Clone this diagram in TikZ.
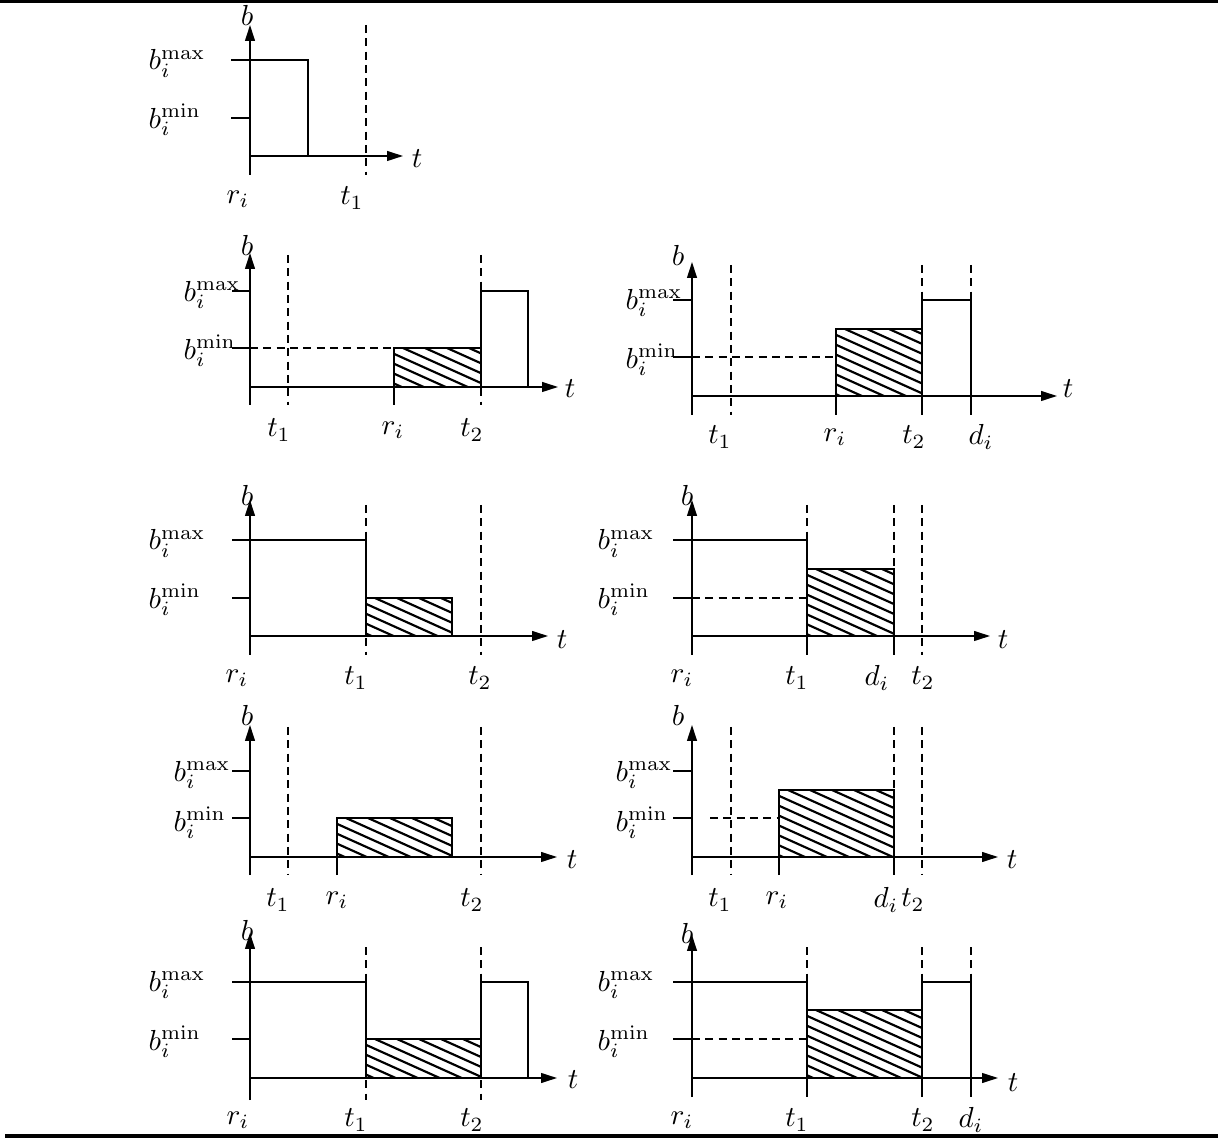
\documentclass[tikz,border=0pt]{standalone}
\usetikzlibrary{arrows.meta}
\newcommand\hatchbox[4]{%
  \begin{scope}
    \clip (#1,#2) rectangle (#3,#4);
    \foreach \k in {-12,...,12}{
      \draw[hatchline] ({#1+9+22*\k-300},{#2-135}) -- ({#1+9+22*\k+300},{#2+135});
    }
  \end{scope}}
\begin{document}
\begin{tikzpicture}[x=0.345pt,y=-0.345pt,
  ax/.style={line width=0.5pt,-{Triangle[length=5.5pt,width=3.4pt]}},
  ln/.style={line width=0.5pt},
  dsh/.style={line width=0.5pt,dash pattern=on 2.8pt off 1.8pt},
  hatchline/.style={line width=0.75pt},
  lbl/.style={inner sep=0pt},
  yl/.style={inner sep=0pt,anchor=west}]
\useasboundingbox (0,0) rectangle (1218,1138);
\fill (0,0) rectangle (1218,3);
\fill (5,1134) rectangle (1218,1137.5);

% ---------- Panel 1 ----------
\draw[ax] (250,175) -- (250,25);
\draw[ax] (250,156) -- (403,156);
\draw[ln] (231,60) -- (308,60) -- (308,156);
\draw[ln] (231,118) -- (250,118);
\draw[dsh] (366,25) -- (366,175);
\node[lbl] (p1b) at (247,15) {$b$};
\node[yl] (p1max) at (148,63.5) {$b_i^{\mathrm{max}}$};
\node[yl] (p1min) at (148,120) {$b_i^{\mathrm{min}}$};
\node[lbl] (p1t) at (417,159) {$t$};
\node[lbl] (p1r) at (238,199) {$r_i$};
\node[lbl] (p1t1) at (352,198) {$t_1$};

% ---------- Panel 2 ----------
\hatchbox{394}{348}{481}{387}
\draw[ax] (250,405) -- (250,253);
\draw[ax] (250,387) -- (558,387);
\draw[ln] (232,291) -- (250,291);
\draw[ln] (232,348) -- (250,348);
\draw[dsh] (250,348) -- (394,348);
\draw[dsh] (288,255) -- (288,405);
\draw[dsh] (481,255) -- (481,405);
\draw[ln] (394,405) -- (394,348) -- (481,348);
\draw[ln] (481,387) -- (481,291) -- (528,291) -- (528,387);
\node[lbl] (p2b) at (247,245) {$b$};
\node[yl] (p2max) at (183,295) {$b_i^{\mathrm{max}}$};
\node[yl] (p2min) at (183,351) {$b_i^{\mathrm{min}}$};
\node[lbl] (p2t) at (570,389) {$t$};
\node[lbl] (p2t1) at (279,430) {$t_1$};
\node[lbl] (p2r) at (393,430) {$r_i$};
\node[lbl] (p2t2) at (472,430) {$t_2$};

% ---------- Panel 3 ----------
\hatchbox{836}{329}{922}{396}
\draw[ax] (692,415) -- (692,262);
\draw[ax] (692,396) -- (1057,396);
\draw[ln] (673,300) -- (692,300);
\draw[ln] (673,357) -- (692,357);
\draw[dsh] (692,357) -- (836,357);
\draw[dsh] (731,265) -- (731,415);
\draw[dsh] (922,265) -- (922,300);
\draw[dsh] (971,265) -- (971,300);
\draw[ln] (836,415) -- (836,329) -- (922,329);
\draw[ln] (922,415) -- (922,300) -- (971,300) -- (971,415);
\node[lbl] (p3b) at (678,255) {$b$};
\node[yl] (p3max) at (625,303) {$b_i^{\mathrm{max}}$};
\node[yl] (p3min) at (625,360) {$b_i^{\mathrm{min}}$};
\node[lbl] (p3t) at (1068,389) {$t$};
\node[lbl] (p3t1) at (720,437) {$t_1$};
\node[lbl] (p3r) at (835,437) {$r_i$};
\node[lbl] (p3t2) at (914,437) {$t_2$};
\node[lbl] (p3d) at (981,437) {$d_i$};

% ---------- Panel 4 ----------
\hatchbox{366}{598}{452}{636}
\draw[ax] (250,655) -- (250,500);
\draw[ax] (250,636) -- (548,636);
\draw[ln] (232,540) -- (366,540) -- (366,636);
\draw[ln] (232,598) -- (250,598);
\draw[dsh] (366,505) -- (366,655);
\draw[dsh] (481,505) -- (481,655);
\draw[ln] (366,598) -- (452,598) -- (452,636);
\node[lbl] (p4b) at (247,495) {$b$};
\node[yl] (p4max) at (148,543.5) {$b_i^{\mathrm{max}}$};
\node[yl] (p4min) at (148,600) {$b_i^{\mathrm{min}}$};
\node[lbl] (p4t) at (562,640) {$t$};
\node[lbl] (p4r) at (237,678) {$r_i$};
\node[lbl] (p4t1) at (356,678) {$t_1$};
\node[lbl] (p4t2) at (480,678) {$t_2$};

% ---------- Panel 5 ----------
\hatchbox{807}{569}{894}{636}
\draw[ax] (692,655) -- (692,500);
\draw[ax] (692,636) -- (990,636);
\draw[ln] (673,540) -- (807,540) -- (807,655);
\draw[ln] (673,598) -- (692,598);
\draw[dsh] (692,598) -- (807,598);
\draw[dsh] (807,505) -- (807,540);
\draw[ln] (807,569) -- (894,569) -- (894,655);
\draw[dsh] (894,505) -- (894,569);
\draw[dsh] (922,505) -- (922,655);
\node[lbl] (p5b) at (687,495) {$b$};
\node[yl] (p5max) at (597,543.5) {$b_i^{\mathrm{max}}$};
\node[yl] (p5min) at (597,600) {$b_i^{\mathrm{min}}$};
\node[lbl] (p5t) at (1003,640) {$t$};
\node[lbl] (p5r) at (682,678) {$r_i$};
\node[lbl] (p5t1) at (797,678) {$t_1$};
\node[lbl] (p5d) at (877,678) {$d_i$};
\node[lbl] (p5t2) at (923,678) {$t_2$};

% ---------- Panel 6 ----------
\hatchbox{337}{818}{452}{857}
\draw[ax] (250,875) -- (250,725);
\draw[ax] (250,857) -- (557,857);
\draw[ln] (232,771) -- (250,771);
\draw[ln] (232,818) -- (250,818);
\draw[dsh] (288,727) -- (288,875);
\draw[dsh] (481,727) -- (481,875);
\draw[ln] (337,875) -- (337,818) -- (452,818) -- (452,857);
\node[lbl] (p6b) at (247,715) {$b$};
\node[yl] (p6max) at (173,775) {$b_i^{\mathrm{max}}$};
\node[yl] (p6min) at (173,823) {$b_i^{\mathrm{min}}$};
\node[lbl] (p6t) at (572,860) {$t$};
\node[lbl] (p6t1) at (278,900) {$t_1$};
\node[lbl] (p6r) at (337,900) {$r_i$};
\node[lbl] (p6t2) at (472,900) {$t_2$};

% ---------- Panel 7 ----------
\hatchbox{779}{790}{894}{857}
\draw[ax] (692,875) -- (692,725);
\draw[ax] (692,857) -- (998,857);
\draw[ln] (673,771) -- (692,771);
\draw[ln] (673,818) -- (692,818);
\draw[dsh] (710,818) -- (779,818);
\draw[dsh] (731,727) -- (731,875);
\draw[dsh] (922,727) -- (922,875);
\draw[dsh] (894,727) -- (894,790);
\draw[ln] (779,875) -- (779,790) -- (894,790) -- (894,875);
\node[lbl] (p7b) at (678,715) {$b$};
\node[yl] (p7max) at (615,775) {$b_i^{\mathrm{max}}$};
\node[yl] (p7min) at (615,823) {$b_i^{\mathrm{min}}$};
\node[lbl] (p7t) at (1012,860) {$t$};
\node[lbl] (p7t1) at (720,900) {$t_1$};
\node[lbl] (p7r) at (777,900) {$r_i$};
\node[lbl] (p7d) at (886,900) {$d_i$};
\node[lbl] (p7t2) at (913,900) {$t_2$};

% ---------- Panel 8 ----------
\hatchbox{366}{1039}{481}{1078}
\draw[ax] (250,1100) -- (250,933);
\draw[ax] (250,1078) -- (557,1078);
\draw[ln] (232,982) -- (366,982) -- (366,1078);
\draw[ln] (232,1039) -- (250,1039);
\draw[dsh] (366,947) -- (366,1100);
\draw[dsh] (481,947) -- (481,1100);
\draw[ln] (366,1039) -- (481,1039);
\draw[ln] (481,1078) -- (481,982) -- (528,982) -- (528,1078);
\node[lbl] (p8b) at (247,930) {$b$};
\node[yl] (p8max) at (148,985) {$b_i^{\mathrm{max}}$};
\node[yl] (p8min) at (148,1042) {$b_i^{\mathrm{min}}$};
\node[lbl] (p8t) at (573,1080) {$t$};
\node[lbl] (p8r) at (238,1120) {$r_i$};
\node[lbl] (p8t1) at (356,1120) {$t_1$};
\node[lbl] (p8t2) at (472,1120) {$t_2$};

% ---------- Panel 9 ----------
\hatchbox{807}{1010}{922}{1078}
\draw[ax] (692,1097) -- (692,935);
\draw[ax] (692,1078) -- (998,1078);
\draw[ln] (673,982) -- (807,982) -- (807,1097);
\draw[ln] (673,1039) -- (692,1039);
\draw[dsh] (692,1039) -- (807,1039);
\draw[dsh] (807,947) -- (807,982);
\draw[ln] (807,1010) -- (922,1010);
\draw[dsh] (922,947) -- (922,982);
\draw[ln] (922,1097) -- (922,982) -- (971,982) -- (971,1097);
\draw[dsh] (971,947) -- (971,982);
\node[lbl] (p9b) at (687,933) {$b$};
\node[yl] (p9max) at (597,985) {$b_i^{\mathrm{max}}$};
\node[yl] (p9min) at (597,1042) {$b_i^{\mathrm{min}}$};
\node[lbl] (p9t) at (1013,1083) {$t$};
\node[lbl] (p9r) at (682,1120) {$r_i$};
\node[lbl] (p9t1) at (797,1120) {$t_1$};
\node[lbl] (p9t2) at (923,1120) {$t_2$};
\node[lbl] (p9d) at (971,1120) {$d_i$};
\end{tikzpicture}
\end{document}
